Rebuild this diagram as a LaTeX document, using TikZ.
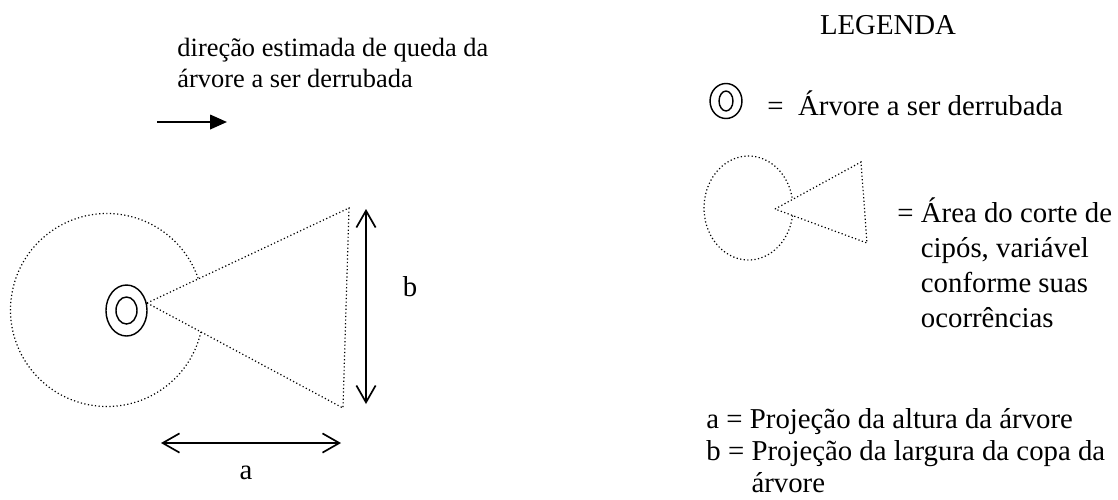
\documentclass[tikz,border=0pt]{standalone}
\usepackage{fontspec}
\setmainfont{Liberation Serif}
\usetikzlibrary{arrows.meta,shapes.geometric}

\begin{document}
\begin{tikzpicture}[x=0.4167pt, y=-0.4167pt,
    trunk/.style={ellipse,draw,line width=0.6pt,inner sep=0pt},
    crown/.style={densely dotted,line width=0.5pt},
    dim/.style={{Straight Barb[length=7pt,width=8pt]}-{Straight Barb[length=7pt,width=8pt]},line width=0.7pt},
    fall/.style={-{Triangle[length=7pt,width=6pt]},line width=0.9pt},
    txt/.style={inner sep=0pt,font=\fontsize{12}{14.5}\selectfont,align=left}
  ]
  \useasboundingbox (0,0) rectangle (1118,499);
  \node[txt,font=\fontsize{11}{12.9}\selectfont,anchor=west] (falltext) at (177,62.5) {direção estimada de queda da\\árvore a ser derrubada};
  \coordinate (fallstart) at (157,122);
  \coordinate (fallend)   at (227,122);
  \draw[fall] (fallstart) -- (fallend);
  \node[trunk,minimum width=17.1pt,minimum height=21.25pt] (tree)     at (126.5,310.5) {};
  \node[trunk,minimum width=8.75pt,minimum height=11.25pt] (treecore) at (tree.center) {};
  \coordinate (apex) at (147,303);
  \coordinate (tip1) at (349,208);
  \coordinate (tip2) at (343,408);
  \draw[crown] (apex) -- (tip1) -- (tip2) -- cycle;
  \coordinate (crowncenter) at (107,310);
  \draw[crown] (crowncenter) ++(13.1:96.5) arc[start angle=13.1,end angle=341.2,radius=96.5];
  \coordinate (btop) at (366,209);
  \coordinate (bbot) at (366,404);
  \draw[dim] (btop) -- (bbot);
  \node[txt] (blabel) at (410,287) {b};
  \coordinate (aleft)  at (161,443);
  \coordinate (aright) at (341,443);
  \draw[dim] (aleft) -- (aright);
  \node[txt] (alabel) at (246,473) {a};
  \node[txt] (legtitle) at (888,25) {LEGENDA};
  \node[trunk,minimum width=13.3pt,minimum height=14.6pt] (legtree) at (726,101) {};
  \node[trunk,minimum width=5.8pt,minimum height=8.3pt]   (legcore) at (legtree.center) {};
  \node[txt,anchor=west] (legtreetext) at (767,103) {=~~Árvore a ser derrubada};
  \coordinate (lapex) at (775,209);
  \coordinate (ltip1) at (861,162);
  \coordinate (ltip2) at (867,243);
  \draw[crown] (lapex) -- (ltip1) -- (ltip2) -- cycle;
  \coordinate (lcrown) at (748.5,208);
  \draw[crown] (lcrown) ++(8.3:44.5 and 52) arc[start angle=8.3,end angle=349.5,x radius=44.5,y radius=52];
  \node[txt,font=\fontsize{12}{14.6}\selectfont,anchor=west] (areatext) at (897,262.5) {= Área do corte de\\\hphantom{= }cipós, variável\\\hphantom{= }conforme suas\\\hphantom{= }ocorrências};
  \node[txt,font=\fontsize{12}{13.3}\selectfont,anchor=west] (abtext) at (706,451) {a = Projeção da altura da árvore\\b = Projeção da largura da copa da\\\hphantom{b = }árvore};
\end{tikzpicture}
\end{document}
